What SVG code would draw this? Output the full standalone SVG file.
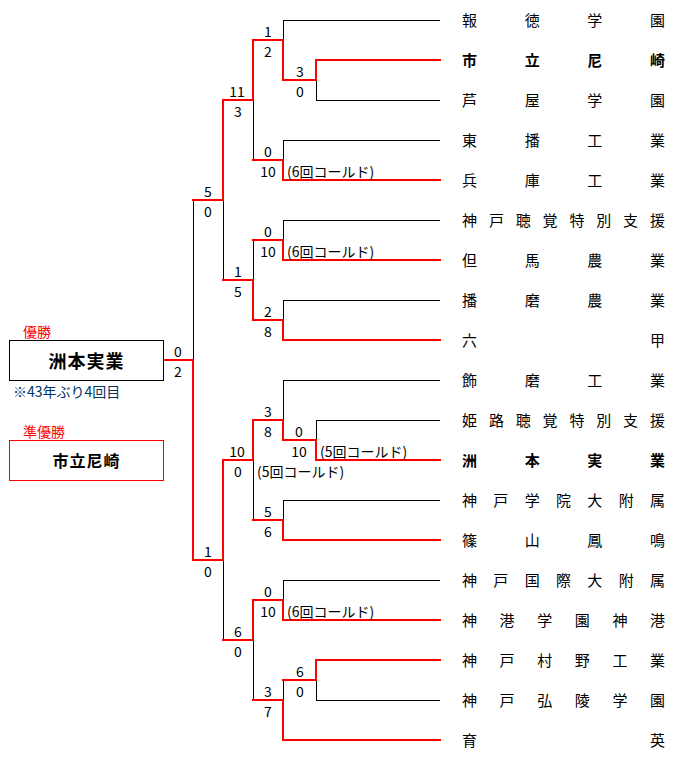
<svg xmlns="http://www.w3.org/2000/svg" width="682" height="761" viewBox="0 0 682 761">
<style>
text{font-family:"Noto Sans CJK JP","Liberation Sans",sans-serif;fill:#000}
.tm{font-size:15px}
.b{font-weight:bold}
.sc{font-size:14px;text-anchor:middle}
.note{font-size:14px}
.lbl{font-size:14px;fill:#ff0000}
.blk{fill:none;stroke:#000;stroke-width:1}
.red{fill:none;stroke:#ff0000;stroke-width:2;stroke-linecap:square}
</style>
<rect width="682" height="761" fill="#fff"/>
<g id="connectors" shape-rendering="crispEdges">
<path class="blk" d="M283 20H440M316 60H440M316 100H440M283 140H440M283 180H440M283 220H440M283 260H440M283 300H440M283 340H440M283 380H440M316 420H440M316 460H440M283 500H440M283 540H440M283 580H440M283 620H440M316 660H440M316 700H440M283 740H440
M316 60V100M283 20V80M283 140V180M283 220V260M283 300V340M316 420V460M283 380V440M283 500V540M283 580V620M316 660V700M283 680V740M253 40V160M253 240V320M253 420V520M253 600V700M223 100V280M223 460V640M193 200V560"/>
<path class="red" d="M316 60H440M283 180H440M283 260H440M283 340H440M316 460H440M283 540H440M283 620H440M316 660H440M283 740H440
M316 60V80M283 80H316M283 40V80M253 40H283M283 160V180M253 160H283M283 240V260M253 240H283M283 320V340M253 320H283
M316 440V460M283 440H316M283 420V440M253 420H283M283 520V540M253 520H283M283 600V620M253 600H283
M316 660V680M283 680H316M283 700V740M253 700H283
M253 40V100M223 100H253M253 280V320M223 280H253M253 420V460M223 460H253M253 600V640M223 640H253
M223 100V200M193 200H223M223 460V560M193 560H223M193 360V560M163 360H193"/>
</g>
<g id="scores">
<text class="sc" x="300" y="77">3</text><text class="sc" x="300" y="97">0</text>
<text class="sc" x="268" y="37">1</text><text class="sc" x="268" y="57">2</text>
<text class="sc" x="268" y="157">0</text><text class="sc" x="268" y="177">10</text>
<text class="sc" x="268" y="237">0</text><text class="sc" x="268" y="257">10</text>
<text class="sc" x="268" y="317">2</text><text class="sc" x="268" y="337">8</text>
<text class="sc" x="299" y="437">0</text><text class="sc" x="299" y="457">10</text>
<text class="sc" x="268" y="417">3</text><text class="sc" x="268" y="437">8</text>
<text class="sc" x="268" y="517">5</text><text class="sc" x="268" y="537">6</text>
<text class="sc" x="268" y="597">0</text><text class="sc" x="268" y="617">10</text>
<text class="sc" x="300" y="677">6</text><text class="sc" x="300" y="697">0</text>
<text class="sc" x="268" y="697">3</text><text class="sc" x="268" y="717">7</text>
<text class="sc" x="237" y="97">11</text><text class="sc" x="238" y="117">3</text>
<text class="sc" x="238" y="277">1</text><text class="sc" x="238" y="297">5</text>
<text class="sc" x="237" y="457">10</text><text class="sc" x="238" y="477">0</text>
<text class="sc" x="238" y="637">6</text><text class="sc" x="238" y="657">0</text>
<text class="sc" x="208" y="197">5</text><text class="sc" x="208" y="217">0</text>
<text class="sc" x="208" y="557">1</text><text class="sc" x="208" y="577">0</text>
<text class="sc" x="178" y="357">0</text><text class="sc" x="178" y="377">2</text>
<text class="note" x="287" y="177">(6回コールド)</text>
<text class="note" x="287" y="257">(6回コールド)</text>
<text class="note" x="320" y="457">(5回コールド)</text>
<text class="note" x="257" y="477">(5回コールド)</text>
<text class="note" x="287" y="617">(6回コールド)</text>
</g>
<g id="team-1"><text class="tm" x="462 524.7 587.3 650" y="26">報徳学園</text></g>
<g id="team-2"><text class="tm b" x="462 524.7 587.3 650" y="66">市立尼崎</text></g>
<g id="team-3"><text class="tm" x="462 524.7 587.3 650" y="106">芦屋学園</text></g>
<g id="team-4"><text class="tm" x="462 524.7 587.3 650" y="146">東播工業</text></g>
<g id="team-5"><text class="tm" x="462 524.7 587.3 650" y="186">兵庫工業</text></g>
<g id="team-6"><text class="tm" x="462 488.9 515.7 542.6 569.4 596.3 623.1 650" y="226">神戸聴覚特別支援</text></g>
<g id="team-7"><text class="tm" x="462 524.7 587.3 650" y="266">但馬農業</text></g>
<g id="team-8"><text class="tm" x="462 524.7 587.3 650" y="306">播磨農業</text></g>
<g id="team-9"><text class="tm" x="462 650" y="346">六甲</text></g>
<g id="team-10"><text class="tm" x="462 524.7 587.3 650" y="386">飾磨工業</text></g>
<g id="team-11"><text class="tm" x="462 488.9 515.7 542.6 569.4 596.3 623.1 650" y="426">姫路聴覚特別支援</text></g>
<g id="team-12"><text class="tm b" x="462 524.7 587.3 650" y="466">洲本実業</text></g>
<g id="team-13"><text class="tm" x="462 493.3 524.7 556 587.3 618.7 650" y="506">神戸学院大附属</text></g>
<g id="team-14"><text class="tm" x="462 524.7 587.3 650" y="546">篠山鳳鳴</text></g>
<g id="team-15"><text class="tm" x="462 493.3 524.7 556 587.3 618.7 650" y="586">神戸国際大附属</text></g>
<g id="team-16"><text class="tm" x="462 499.6 537.2 574.8 612.4 650" y="626">神港学園神港</text></g>
<g id="team-17"><text class="tm" x="462 499.6 537.2 574.8 612.4 650" y="666">神戸村野工業</text></g>
<g id="team-18"><text class="tm" x="462 499.6 537.2 574.8 612.4 650" y="706">神戸弘陵学園</text></g>
<g id="team-19"><text class="tm" x="462 650" y="746">育英</text></g>
<g id="champion">
<text class="lbl" x="23" y="337">優勝</text>
<rect x="9.5" y="340.5" width="154" height="40" fill="#fff" stroke="#000" stroke-width="1"/>
<text x="86.5" y="368" font-size="18" font-weight="bold" text-anchor="middle" letter-spacing="1">洲本実業</text>
<text x="13" y="397" font-size="14" style="fill:#003366">※43年ぶり4回目</text>
</g>
<g id="runner-up">
<text class="lbl" x="23" y="437">準優勝</text>
<rect x="9.5" y="440.5" width="154" height="40" fill="#fff" stroke="#ff0000" stroke-width="1"/>
<text x="86.5" y="467" font-size="16" font-weight="bold" text-anchor="middle" letter-spacing="1">市立尼崎</text>
</g>
</svg>
